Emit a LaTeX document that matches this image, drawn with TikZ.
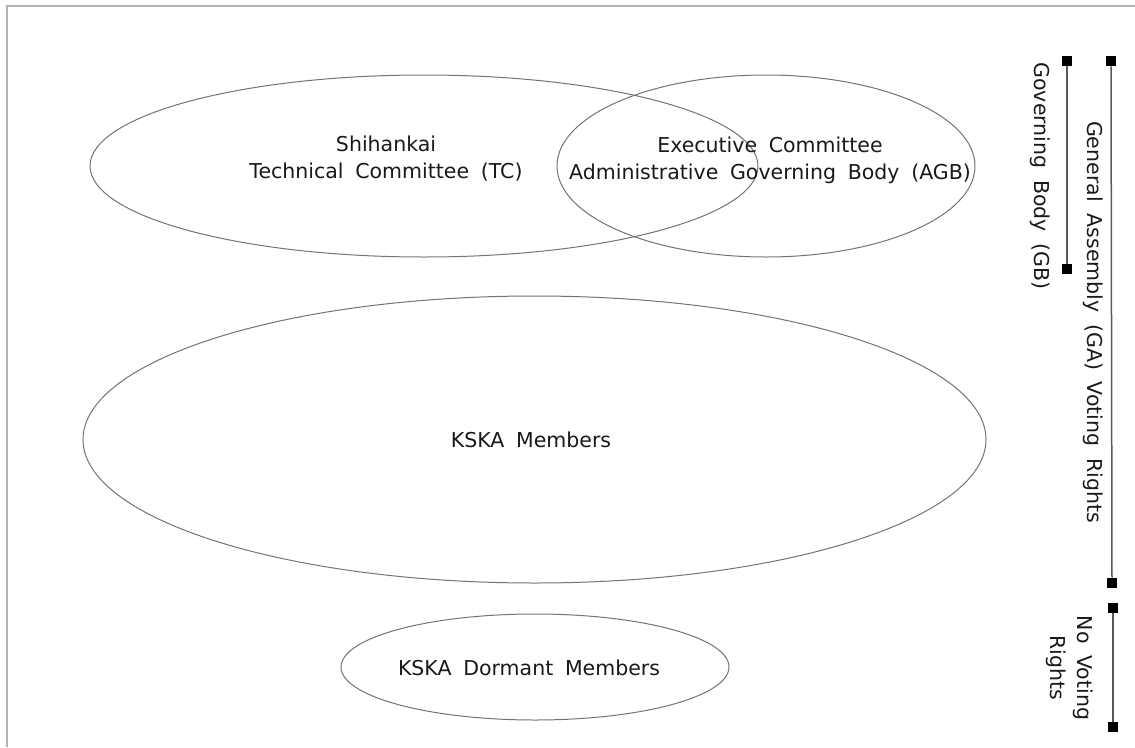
\documentclass[tikz,border=0pt]{standalone}
\usepackage{fontspec}
\setmainfont{DejaVu Sans}[WordSpace=1.8]
\usetikzlibrary{shapes.geometric}
\begin{document}
\begin{tikzpicture}[x=1pt,y=-1pt,
  oval/.style={ellipse,draw=black!55,line width=1pt,inner sep=0pt},
  lbl/.style={font=\fontsize{20.5}{27}\selectfont,align=center,text=black!90,inner sep=0pt},
  sq/.style={fill=black,minimum size=10.5pt,inner sep=0pt},
  brk/.style={draw=black!65,line width=1.5pt}]
\useasboundingbox (0,0) rectangle (1135,747);
\draw[black!30,line width=1.5pt] (7,747) -- (7,6) -- (1135,6);
\node[oval,minimum width=668pt,minimum height=182pt] (tc) at (424,166) {};
\node[oval,minimum width=418pt,minimum height=182pt] (agb) at (766,166) {};
\node[oval,minimum width=903pt,minimum height=287pt] (mem) at (534.5,439.5) {};
\node[oval,minimum width=388pt,minimum height=106pt] (dor) at (535,667) {};
\node[lbl] (tct) at (386,159) {Shihankai\\Technical Committee (TC)};
\node[lbl] (agbt) at (770,160) {Executive Committee\\Administrative Governing Body (AGB)};
\node[lbl] (memt) at (531,440) {KSKA Members};
\node[lbl] (dort) at (529,668) {KSKA Dormant Members};
\node[sq] (gb1) at (1067,61) {};
\node[sq] (gb2) at (1067,269) {};
\draw[brk] (gb1) -- (gb2);
\node[sq] (ga1) at (1111,61) {};
\node[sq] (ga2) at (1112,583) {};
\draw[brk] (ga1) -- (ga2);
\node[sq] (nv1) at (1113,608) {};
\node[sq] (nv2) at (1113,727) {};
\draw[brk] (nv1) -- (nv2);
\node[lbl,rotate=-90] (gbt) at (1040,176) {Governing Body (GB)};
\node[lbl,rotate=-90] (gat) at (1093,322) {General Assembly (GA) Voting Rights};
\node[lbl,rotate=-90] (nvt) at (1070,668) {No Voting\\Rights};
\end{tikzpicture}
\end{document}
